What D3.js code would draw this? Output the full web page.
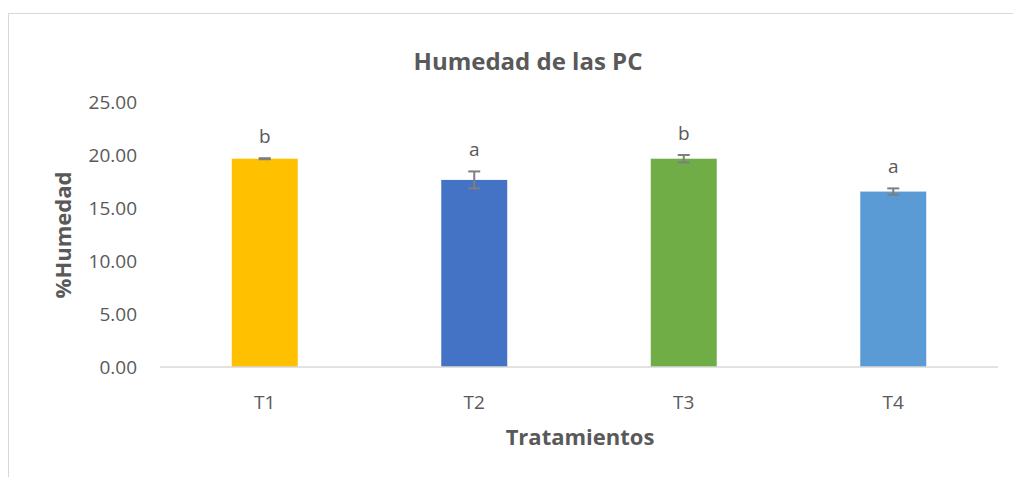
<!DOCTYPE html>
<html>
<head>
<meta charset="utf-8">
<script src="https://cdn.jsdelivr.net/npm/d3@7"></script>
<style>
  body { margin: 0; background: #fff; }
  text { font-family: "Open Sans", "Noto Sans", sans-serif; fill: #595959; }
</style>
</head>
<body>
<svg id="chart" width="1013" height="477"></svg>
<script>
var width = 1013,
    height = 477;

var categories = ['T1', 'T2', 'T3', 'T4'];
var values = [19.65, 17.65, 19.65, 16.55];
var errors = [0.05, 0.8, 0.35, 0.3];
var letters = ['b', 'a', 'b', 'a'];
var colors = ['#FFC000', '#4472C4', '#70AD47', '#5B9BD5'];
var yTicks = [0, 5, 10, 15, 20, 25];

var margin = {left: 160, right: 15, top: 102, bottom: 110};

var svg = d3.select('#chart');

// outer chart frame (runs off the picture on right and bottom)
svg.append('rect')
    .attr('x', 8.5).attr('y', 13.5)
    .attr('width', 1100).attr('height', 600)
    .attr('fill', 'none')
    .attr('stroke', '#d9d9d9');

var x = d3.scaleBand()
    .domain(categories)
    .range([margin.left, width - margin.right])
    .paddingInner(0.685)
    .paddingOuter(0.3425);

var y = d3.scaleLinear()
    .domain([0, 25])
    .range([367, 102]);

// y tick labels
svg.append('g').selectAll('text')
    .data(yTicks).enter()
    .append('text')
    .attr('x', 137)
    .attr('y', d => y(d))
    .attr('dy', '0.35em')
    .attr('text-anchor', 'end')
    .style('font-size', '19px')
    .text(d => d.toFixed(2));

// bars
svg.append('g').selectAll('rect')
    .data(categories).enter()
    .append('rect')
    .attr('x', d => x(d))
    .attr('y', (d, i) => y(values[i]))
    .attr('width', x.bandwidth())
    .attr('height', (d, i) => y(0) - y(values[i]))
    .attr('fill', (d, i) => colors[i]);

// baseline
svg.append('line')
    .attr('x1', margin.left).attr('x2', width - margin.right)
    .attr('y1', y(0)).attr('y2', y(0))
    .attr('stroke', '#d9d9d9')
    .attr('stroke-width', 1.5);

// error bars
var eb = svg.append('g').attr('stroke', '#7f7f7f').attr('stroke-width', 2);
categories.forEach(function(c, i) {
  var cx = x(c) + x.bandwidth() / 2;
  var top = y(values[i] + errors[i]), bot = y(values[i] - errors[i]);
  eb.append('line').attr('x1', cx).attr('x2', cx).attr('y1', top).attr('y2', bot);
  eb.append('line').attr('x1', cx - 6).attr('x2', cx + 6).attr('y1', top).attr('y2', top);
  eb.append('line').attr('x1', cx - 6).attr('x2', cx + 6).attr('y1', bot).attr('y2', bot);
});

// significance letters
svg.append('g').selectAll('text')
    .data(categories).enter()
    .append('text')
    .attr('x', d => x(d) + x.bandwidth() / 2)
    .attr('y', (d, i) => y(values[i] + errors[i]) - 15)
    .attr('text-anchor', 'middle')
    .style('font-size', '19px')
    .text((d, i) => letters[i]);

// x tick labels
svg.append('g').selectAll('text')
    .data(categories).enter()
    .append('text')
    .attr('x', d => x(d) + x.bandwidth() / 2)
    .attr('y', 409)
    .attr('text-anchor', 'middle')
    .style('font-size', '19px')
    .text(d => d);

// titles
svg.append('text')
    .attr('x', 528).attr('y', 70)
    .attr('text-anchor', 'middle')
    .style('font-size', '24px').style('font-weight', 'bold')
    .text('Humedad de las PC');

svg.append('text')
    .attr('x', 580).attr('y', 445)
    .attr('text-anchor', 'middle')
    .style('font-size', '22px').style('font-weight', 'bold')
    .text('Tratamientos');

svg.append('text')
    .attr('transform', 'translate(71,235) rotate(-90)')
    .attr('text-anchor', 'middle')
    .style('font-size', '22px').style('font-weight', 'bold')
    .text('%Humedad');
</script>
</body>
</html>
